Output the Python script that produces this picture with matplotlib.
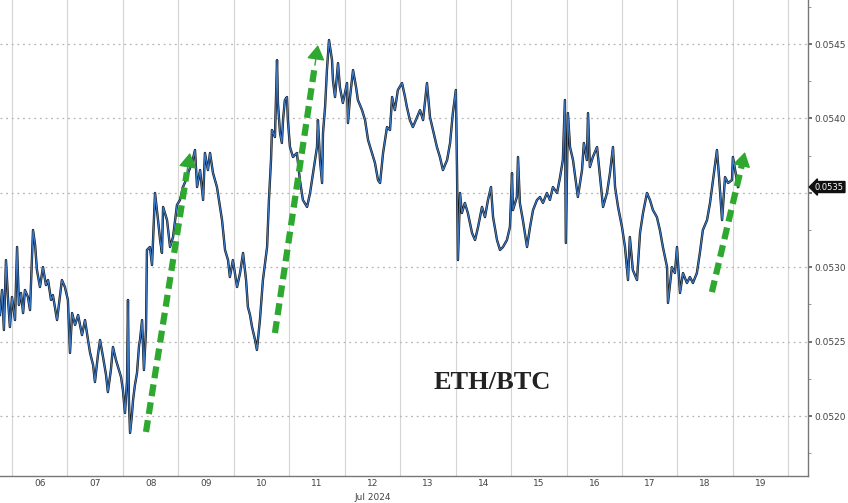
import matplotlib
matplotlib.use("Agg")
import matplotlib.pyplot as plt
import matplotlib.transforms as mtransforms
from matplotlib.ticker import MultipleLocator, FixedLocator

# hours since 2024-07-06 00:00 and ETH/BTC ratio
hours = [
    -5.2, -4.3, -3.5, -2.6, -1.7, -0.9, 0.0, 1.3, 2.2, 3.0, 3.9, 4.8, 5.6, 6.9, 7.8,
    9.1, 10.0, 10.8, 12.1, 13.4, 14.7, 15.6, 16.9, 17.7, 19.5, 20.8, 21.6, 22.9,
    24.2, 25.1, 26.0, 27.3, 28.6, 30.3, 31.6, 32.9, 33.8, 35.1, 35.9, 37.2, 38.1,
    39.4, 40.7, 41.5, 42.8, 43.7, 45.0, 45.9, 47.2, 48.0, 48.9, 49.8, 50.2, 50.6,
    51.1, 51.9, 52.4, 53.2, 54.1, 55.0, 55.4, 56.3, 57.1, 58.0, 58.4, 59.7, 60.6,
    61.9, 63.2, 64.1, 64.9, 65.4, 67.1, 68.4, 69.7, 71.4, 72.7, 74.0, 75.3, 76.2,
    77.9, 79.2, 80.1, 81.4, 82.7, 83.5, 84.8, 85.7, 87.0, 88.7, 90.0, 90.9, 92.2,
    93.5, 94.3, 95.6, 97.4, 98.7, 100.0, 101.3, 102.1, 103.0, 103.9, 105.2, 106.0,
    107.3, 108.6, 110.4, 111.2, 112.1, 112.5, 113.8, 114.7, 115.1, 116.0, 116.8,
    117.3, 118.1, 119.0, 119.4, 120.3, 121.6, 123.3, 124.6, 125.9, 127.7, 129.0,
    130.3, 132.0, 132.4, 133.3, 134.2, 134.6, 135.5, 136.3, 137.2, 138.5, 138.9,
    139.8, 141.1, 141.9, 143.2, 145.0, 145.4, 146.3, 147.6, 148.9, 149.7, 151.5,
    152.8, 154.1, 155.8, 157.1, 158.4, 159.3, 160.6, 162.3, 163.6, 164.5, 165.7,
    167.0, 168.8, 170.1, 170.9, 172.2, 173.5, 175.3, 176.6, 177.9, 179.6, 180.9,
    182.2, 183.9, 185.2, 186.5, 188.3, 189.6, 190.8, 192.1, 192.6, 193.0, 193.9,
    194.7, 196.0, 197.3, 199.1, 200.4, 201.7, 203.4, 204.7, 206.0, 207.3, 208.2,
    209.9, 211.2, 212.5, 214.2, 215.5, 216.4, 216.8, 218.5, 219.0, 219.8, 221.1,
    222.9, 224.2, 225.5, 227.2, 228.5, 229.8, 231.5, 232.8, 234.1, 235.9, 237.2,
    238.4, 239.3, 239.7, 240.6, 241.5, 242.8, 244.9, 246.7, 247.5, 248.8, 249.3,
    250.1, 251.4, 253.2, 254.5, 255.8, 257.5, 258.8, 260.1, 261.0, 262.3, 264.0,
    265.3, 266.6, 267.4, 268.7, 270.5, 271.8, 273.1, 274.8, 276.1, 277.4, 279.1,
    280.4, 281.7, 283.5, 283.9, 285.6, 286.9, 287.8, 289.1, 290.4, 292.1, 293.4,
    294.7, 296.4, 297.7, 299.0, 300.8, 302.1, 303.4, 305.1, 306.0, 307.3, 308.6,
    309.9, 311.6, 312.0, 314.2,
]
ratio = [
    0.052679, 0.052847, 0.052578, 0.053048, 0.052780, 0.052598, 0.052800, 0.052645,
    0.053136, 0.052746, 0.052827, 0.052692, 0.052847, 0.052800, 0.052712, 0.053250,
    0.053150, 0.052981, 0.052867, 0.053001, 0.052880, 0.052914, 0.052780, 0.052813,
    0.052645, 0.052813, 0.052914, 0.052867, 0.052780, 0.052424, 0.052692, 0.052612,
    0.052679, 0.052544, 0.052645, 0.052511, 0.052424, 0.052343, 0.052229, 0.052410,
    0.052511, 0.052397, 0.052276, 0.052161, 0.052309, 0.052464, 0.052376, 0.052329,
    0.052262, 0.052175, 0.052020, 0.052242, 0.052780, 0.052108, 0.051886, 0.052007,
    0.052108, 0.052208, 0.052289, 0.052477, 0.052511, 0.052645, 0.052309, 0.052578,
    0.053116, 0.053136, 0.053015, 0.053499, 0.053317, 0.053183, 0.053096, 0.053405,
    0.053317, 0.053136, 0.053203, 0.053418, 0.053452, 0.053539, 0.053586, 0.053633,
    0.053700, 0.053788, 0.053539, 0.053653, 0.053452, 0.053768, 0.053653, 0.053768,
    0.053633, 0.053539, 0.053405, 0.053317, 0.053116, 0.053048, 0.052934, 0.053048,
    0.052867, 0.052961, 0.053096, 0.052914, 0.052733, 0.052680, 0.052598, 0.052511,
    0.052444, 0.052645, 0.052914, 0.053136, 0.053452, 0.053720, 0.053922, 0.053875,
    0.054392, 0.054104, 0.053902, 0.053835, 0.053989, 0.054124, 0.054144, 0.053989,
    0.053808, 0.053741, 0.053768, 0.053586, 0.053452, 0.053405, 0.053499, 0.053633,
    0.053808, 0.053989, 0.053720, 0.053566, 0.053902, 0.054077, 0.054325, 0.054527,
    0.054392, 0.054258, 0.054144, 0.054372, 0.054211, 0.054104, 0.054238, 0.053969,
    0.054144, 0.054325, 0.054211, 0.054124, 0.054056, 0.053989, 0.053855, 0.053768,
    0.053700, 0.053586, 0.053566, 0.053768, 0.053942, 0.053922, 0.054144, 0.054056,
    0.054191, 0.054238, 0.054144, 0.054077, 0.053989, 0.053942, 0.054009, 0.054056,
    0.053989, 0.054238, 0.054009, 0.053922, 0.053808, 0.053741, 0.053653, 0.053720,
    0.053835, 0.054036, 0.054191, 0.053653, 0.053048, 0.053499, 0.053364, 0.053432,
    0.053364, 0.053230, 0.053183, 0.053270, 0.053405, 0.053337, 0.053452, 0.053539,
    0.053337, 0.053183, 0.053116, 0.053136, 0.053183, 0.053270, 0.053633, 0.053384,
    0.053472, 0.053741, 0.053432, 0.053317, 0.053136, 0.053270, 0.053384, 0.053452,
    0.053472, 0.053432, 0.053499, 0.053452, 0.053539, 0.053499, 0.053606, 0.053720,
    0.054124, 0.053163, 0.054036, 0.053808, 0.053720, 0.053472, 0.053653, 0.053835,
    0.053720, 0.054036, 0.053673, 0.053741, 0.053808, 0.053606, 0.053405, 0.053499,
    0.053633, 0.053808, 0.053539, 0.053405, 0.053270, 0.053136, 0.052914, 0.053203,
    0.052981, 0.052914, 0.053230, 0.053364, 0.053499, 0.053452, 0.053384, 0.053337,
    0.053250, 0.053136, 0.053001, 0.052760, 0.053001, 0.052961, 0.053136, 0.052827,
    0.052961, 0.052894, 0.052934, 0.052894, 0.052961, 0.053096, 0.053250, 0.053317,
    0.053432, 0.053586, 0.053788, 0.053606, 0.053317, 0.053606, 0.053566, 0.053586,
    0.053741, 0.053539,
]

day_labels = ["06", "07", "08", "09", "10", "11", "12", "13", "14", "15", "16", "17", "18", "19"]
month_label = "Jul 2024"
y_ticks = [0.0520, 0.0525, 0.0530, 0.0535, 0.0540, 0.0545]
title_text = "ETH/BTC"
last_label = "0.0535"

# green "trend" arrows: (tail hour, tail value, tip hour, tip value)
arrows = [
    (58.0, 0.051893, 77.0, 0.053768),
    (113.8, 0.052558, 132.4, 0.054493),
    (302.9, 0.052833, 317.2, 0.053774),
]

green = "#2fa82f"

fig = plt.figure(figsize=(8.48, 5.03), dpi=100)
ax = fig.add_axes([0.0, 0.0537, 808 / 848, 1 - 0.0537])

ax.plot(hours, ratio, color="#111111", lw=1.7, solid_joinstyle="round", zorder=3)
ax.plot(hours, ratio, color="#3b78c4", lw=0.9, solid_joinstyle="round", zorder=4)

ax.set_xlim(-5.19, 344.5)
ax.set_ylim(0.051597, 0.054796)

# x axis: grid at day boundaries, labels at day centres
ax.xaxis.set_major_locator(FixedLocator([12 + 24 * i for i in range(len(day_labels))]))
ax.set_xticklabels(day_labels)
ax.xaxis.set_minor_locator(FixedLocator([24 * i for i in range(len(day_labels) + 1)]))
ax.tick_params(axis="x", which="major", length=0, pad=2, labelsize=6.5, labelcolor="#444444")
ax.tick_params(axis="x", which="minor", length=0)
ax.grid(True, axis="x", which="minor", color="#d4d4d4", lw=0.8, linestyle="-")

t = mtransforms.blended_transform_factory(ax.transData, ax.transAxes)
ax.text(12 + 24 * 6, -0.036, month_label, transform=t, ha="center", va="top",
        fontsize=6.5, color="#444444")

# y axis on the right; the 0.0535 level is shown by the last-value box instead
ax.yaxis.tick_right()
ax.set_yticks(y_ticks)
ax.set_yticklabels(["" if "%.4f" % v == last_label else "%.4f" % v for v in y_ticks])
ax.yaxis.set_minor_locator(MultipleLocator(0.00025))
ax.tick_params(axis="y", which="major", length=3, width=1.2, color="#555555",
               labelsize=6.5, labelcolor="#444444", pad=1.5)
ax.tick_params(axis="y", which="minor", length=2, color="#888888")
ax.grid(True, axis="y", which="major", color="#b5b5b5", lw=0.9, linestyle=(0, (1.5, 3)))

for s in ["left", "top"]:
    ax.spines[s].set_visible(False)
for s in ["right", "bottom"]:
    ax.spines[s].set_color("#777777")
    ax.spines[s].set_linewidth(1.0)

# last value box
ax.annotate(last_label, xy=(1.0, ratio[-1]), xycoords=("axes fraction", "data"),
            xytext=(5, 0), textcoords="offset points", ha="left", va="center",
            fontsize=6, color="white",
            bbox=dict(boxstyle="larrow,pad=0.12", fc="#111111", ec="#111111"),
            annotation_clip=False, zorder=10)

# dashed green arrows
for x0, y0, x1, y1 in arrows:
    fx = x0 + (x1 - x0) * 0.93
    fy = y0 + (y1 - y0) * 0.93
    ax.plot([x0, fx], [y0, fy], color=green, lw=4.5, dashes=(1.9, 1.0),
            solid_capstyle="butt", dash_capstyle="butt", zorder=6)
    ax.annotate("", xy=(x1, y1), xytext=(fx, fy),
                arrowprops=dict(arrowstyle="-|>,head_width=0.55,head_length=0.9",
                                color=green, lw=1, shrinkA=0, shrinkB=0),
                zorder=7)

ax.text(207.7, 0.052222, title_text, ha="center", va="center", fontsize=19,
        fontweight="bold", family="Liberation Serif", color="#222222", zorder=8)

fig.savefig("out.png", dpi=100)
